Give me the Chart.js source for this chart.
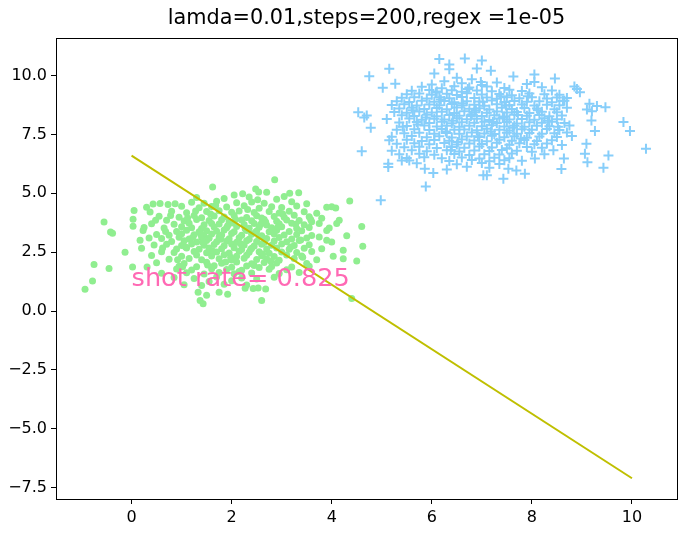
<!DOCTYPE html>
<html>
<head>
<meta charset="utf-8">
<script src="https://cdn.jsdelivr.net/npm/chart.js@4.4.0/dist/chart.umd.min.js"></script>
<style>
  html, body { margin: 0; padding: 0; background: #fff; }
</style>
</head>
<body>
<canvas id="chart" width="699" height="541"></canvas>
<script>
const titleText = 'lamda=0.01,steps=200,regex =1e-05'
const noteText = 'shot rate= 0.825'
const notePos = [0, 1.05]
const xTicks = [0, 2, 4, 6, 8, 10]
const yTicks = [-7.5, -5, -2.5, 0, 2.5, 5, 7.5, 10]
const lineX = [0, 10]
const lineY = [6.6, -7.1]

// class 0 (circles)
const greenPoints = [
  [2.86,5.57],
  [1.62,5.26],[2.48,5.18],
  [2.22,4.98],[2.54,5.05],[2.70,5.04],[3.16,5.0],[3.34,5.02],[2.05,4.93],
  [1.85,4.78],[2.35,4.84],[2.90,4.75],[1.30,4.82],[3.05,4.86],
  [0.43,4.54],[0.57,4.56],[0.73,4.52],[0.87,4.55],[1.20,4.62],[1.45,4.58],[1.70,4.66],[2.10,4.60],[2.40,4.63],[2.65,4.57],[3.20,4.64],[3.50,4.55],[4.36,4.67],
  [0.30,4.40],[1.00,4.45],[1.35,4.38],[1.60,4.44],[1.90,4.42],[2.25,4.47],[2.55,4.36],[2.80,4.43],[3.00,4.39],[3.30,4.46],[3.90,4.40],[4.00,4.43],[4.08,4.37],[0.05,4.27],
  [0.37,4.20],[0.80,4.24],[1.10,4.17],[1.50,4.22],[1.75,4.26],[2.00,4.19],[2.15,4.25],[2.45,4.18],[2.75,4.23],[2.95,4.16],[3.15,4.24],[3.45,4.21],[3.70,4.15],
  [0.55,4.02],[0.95,3.98],[1.25,4.05],[1.40,3.96],[1.65,4.03],[1.85,3.99],[2.05,4.06],[2.30,3.97],[2.50,4.04],[2.60,3.95],[2.85,4.01],[3.05,3.98],[3.25,4.07],[3.55,4.00],[3.80,3.94],[0.03,3.90],
  [0.70,3.85],[1.05,3.82],[1.30,3.88],[1.55,3.84],[1.80,3.87],[1.95,3.80],[2.20,3.86],[2.40,3.83],[2.65,3.89],[2.90,3.81],[3.10,3.86],[3.35,3.84],[3.60,3.79],[4.15,3.85],[4.10,3.72],
  [0.40,3.70],[0.85,3.68],[1.15,3.73],[1.45,3.66],[1.60,3.71],[1.75,3.69],[2.00,3.74],[2.25,3.67],[2.45,3.72],[2.70,3.65],[2.95,3.70],[3.20,3.73],[3.45,3.66],[3.75,3.71],[-0.55,3.78],[0.03,3.60],
  [0.25,3.55],[0.65,3.52],[1.00,3.58],[1.20,3.54],[1.40,3.50],[1.65,3.57],[1.90,3.53],[2.10,3.59],[2.35,3.51],[2.55,3.56],[2.80,3.54],[3.00,3.58],[3.30,3.50],[3.55,3.55],[3.95,3.52],[4.60,3.59],
  [0.23,3.42],[0.90,3.38],[1.10,3.43],[1.35,3.36],[1.50,3.41],[1.70,3.39],[1.85,3.44],[2.05,3.37],[2.30,3.42],[2.50,3.40],[2.75,3.36],[2.90,3.43],[3.15,3.38],[3.40,3.41],[3.90,3.42],[-0.42,3.35],
  [0.50,3.25],[0.75,3.22],[1.00,3.28],[1.25,3.24],[1.45,3.21],[1.60,3.27],[1.80,3.23],[2.00,3.29],[2.20,3.22],[2.40,3.26],[2.60,3.20],[2.85,3.27],[3.05,3.23],[3.30,3.25],[3.60,3.21],[4.30,3.20],[-0.38,3.30],
  [0.35,3.10],[0.60,3.08],[0.95,3.13],[1.15,3.06],[1.40,3.12],[1.55,3.09],[1.75,3.14],[1.95,3.07],[2.15,3.11],[2.35,3.05],[2.55,3.13],[2.70,3.08],[2.95,3.12],[3.20,3.06],[3.50,3.10],[3.75,3.14],
  [0.17,3.00],[0.80,2.95],[1.05,2.98],[1.30,2.93],[1.50,2.99],[1.70,2.94],[1.90,2.97],[2.10,2.92],[2.30,2.98],[2.50,2.95],[2.65,2.91],[2.85,2.97],[3.10,2.94],[3.35,2.99],[3.90,3.00],[4.00,2.93],
  [0.45,2.80],[0.70,2.83],[1.00,2.78],[1.20,2.84],[1.45,2.79],[1.65,2.82],[1.85,2.77],[2.00,2.85],[2.25,2.80],[2.45,2.76],[2.60,2.83],[2.80,2.79],[3.00,2.84],[3.25,2.78],[3.55,2.81],[4.62,2.75],
  [0.20,2.66],[0.90,2.63],[1.10,2.68],[1.35,2.62],[1.55,2.67],[1.80,2.64],[2.05,2.69],[2.20,2.61],[2.40,2.66],[2.70,2.63],[2.90,2.68],[3.15,2.62],[3.45,2.66],[3.80,2.64],
  [-0.13,2.50],[0.60,2.52],[0.85,2.48],[1.25,2.53],[1.50,2.47],[1.70,2.51],[1.95,2.46],[2.15,2.54],[2.35,2.49],[2.55,2.52],[2.75,2.45],[3.00,2.51],[3.30,2.48],[3.60,2.53],[4.23,2.58],
  [0.40,2.36],[1.00,2.33],[1.30,2.38],[1.60,2.34],[1.85,2.39],[2.10,2.32],[2.30,2.37],[2.60,2.35],[2.85,2.31],[3.10,2.38],[3.40,2.34],[4.03,2.32],
  [0.75,2.20],[1.15,2.23],[1.40,2.18],[1.75,2.22],[2.00,2.17],[2.25,2.24],[2.50,2.19],[2.70,2.21],[2.95,2.16],[3.25,2.23],[3.70,2.18],[4.23,2.22],[4.50,2.12],
  [0.50,2.05],[1.05,2.02],[1.50,2.07],[1.80,2.03],[2.10,2.08],[2.40,2.01],[2.65,2.06],[2.90,2.04],[3.50,2.02],[-0.75,1.97],
  [0.02,1.87],[0.31,1.87],[0.95,1.90],[1.30,1.88],[1.65,1.92],[2.00,1.86],[2.30,1.91],[2.55,1.85],[2.80,1.89],[3.20,1.87],[3.55,1.90],[2.45,1.93],
  [-0.45,1.80],[0.90,1.78],[1.20,1.74],[1.60,1.79],[1.90,1.76],[2.20,1.73],[2.75,1.77],[3.10,1.75],
  [0.60,1.60],[1.10,1.62],[1.45,1.57],[1.75,1.63],[2.05,1.58],[2.40,1.61],[2.95,1.59],[3.35,1.64],
  [0.85,1.42],[1.25,1.38],[1.70,1.44],[2.20,1.40],[2.50,1.36],[2.85,1.43],
  [-0.78,1.27],[1.55,1.25],[2.00,1.29],
  [1.05,1.12],[1.40,1.08],[1.85,1.14],[2.30,1.10],
  [-0.93,0.92],[2.43,0.96],[2.53,0.98],[2.68,0.94],[2.27,0.97],
  [1.33,0.80],[1.75,0.80],
  [1.50,0.67],[1.92,0.71],
  [4.40,0.53],
  [1.37,0.45],[2.60,0.45],
  [1.43,0.31],
  // denser core
  [1.12,3.95],[1.58,4.12],[2.32,4.31],[2.68,3.78],[1.38,3.27],[1.92,3.62],[2.47,3.33],[2.18,2.86],
  [1.62,2.55],[2.88,3.45],[3.38,3.02],[0.68,3.38],[1.08,2.72],[2.62,2.42],[1.98,2.28],[1.28,4.25],
  [3.02,4.12],[2.52,4.72],[1.78,3.05],[2.27,3.49],[0.48,3.85],[3.58,3.88],[1.52,1.95],[2.78,2.12],
  [3.18,2.72],[0.92,2.18],[1.68,4.48],[2.08,3.88],[2.93,3.58],[1.22,3.12],[3.42,2.28],[1.88,2.08],
  [0.78,4.05],[2.38,2.62],[2.58,3.68],[1.42,2.92],[3.28,3.68],[0.62,2.68],[2.15,1.68],[1.02,1.88]
]

// class 1 (crosses)
const bluePoints = [
  [6.15,10.70],[6.66,10.72],[7.00,10.64],
  [6.35,10.47],
  [5.15,10.28],[6.35,10.26],[6.90,10.30],
  [7.18,10.20],
  [8.05,10.04],[6.05,10.08],
  [4.75,9.97],[7.63,9.96],
  [8.46,9.87],[6.50,9.90],[6.80,9.84],
  [8.05,9.72],[6.25,9.75],[7.30,9.70],
  [5.27,9.65],[6.00,9.62],[6.60,9.67],[7.00,9.60],[7.90,9.64],
  [5.02,9.48],[5.80,9.52],[6.20,9.46],[6.45,9.54],[6.75,9.49],[7.10,9.53],[7.45,9.47],[8.85,9.53],[8.20,9.50],
  [5.60,9.35],[5.95,9.38],[6.10,9.32],[6.40,9.37],[6.60,9.31],[6.90,9.36],[7.20,9.33],[7.55,9.39],[7.80,9.34],[8.90,9.43],[8.40,9.36],
  [5.50,9.20],[5.75,9.23],[6.00,9.18],[6.30,9.22],[6.50,9.17],[6.70,9.24],[7.00,9.19],[7.35,9.21],[7.60,9.16],[7.95,9.23],[8.25,9.20],[8.96,9.29],[8.55,9.18],
  [5.40,9.05],[5.65,9.08],[5.90,9.02],[6.15,9.07],[6.35,9.03],[6.60,9.09],[6.85,9.04],[7.10,9.06],[7.30,9.01],[7.50,9.08],[7.75,9.03],[8.00,9.07],[8.30,9.02],[8.50,9.06],[8.70,9.04],
  [5.30,8.90],[5.55,8.87],[5.80,8.93],[6.05,8.88],[6.25,8.92],[6.45,8.86],[6.70,8.91],[6.95,8.89],[7.20,8.94],[7.45,8.87],[7.65,8.92],[7.90,8.88],[8.15,8.91],[8.40,8.86],[8.65,8.93],
  [5.20,8.75],[5.45,8.78],[5.70,8.72],[5.95,8.77],[6.15,8.73],[6.40,8.79],[6.60,8.74],[6.85,8.76],[7.05,8.71],[7.30,8.78],[7.55,8.73],[7.80,8.77],[8.05,8.72],[8.30,8.76],[8.55,8.74],[9.15,8.80],[9.30,8.70],
  [5.35,8.60],[5.60,8.63],[5.85,8.58],[6.10,8.62],[6.30,8.57],[6.50,8.64],[6.75,8.59],[6.95,8.61],[7.15,8.56],[7.40,8.63],[7.60,8.58],[7.85,8.62],[8.10,8.60],[8.45,8.57],[8.70,8.63],[9.47,8.65],[9.10,8.55],
  [4.53,8.44],[5.25,8.45],[5.50,8.42],[5.75,8.47],[6.00,8.43],[6.20,8.46],[6.45,8.41],[6.65,8.48],[6.85,8.44],[7.10,8.42],[7.30,8.47],[7.50,8.43],[7.70,8.45],[7.95,8.41],[8.20,8.46],[8.50,8.44],[9.20,8.48],
  [4.70,8.30],[4.65,8.22],[5.40,8.31],[5.65,8.28],[5.90,8.33],[6.10,8.27],[6.35,8.32],[6.55,8.29],[6.80,8.34],[7.00,8.28],[7.25,8.31],[7.45,8.26],[7.65,8.33],[7.90,8.29],[8.15,8.32],[8.35,8.27],[8.60,8.30],
  [5.10,8.15],[5.55,8.17],[5.80,8.12],[6.05,8.16],[6.25,8.13],[6.50,8.18],[6.70,8.14],[6.90,8.16],[7.15,8.11],[7.35,8.17],[7.55,8.13],[7.80,8.15],[8.05,8.12],[8.25,8.18],[8.50,8.14],[9.19,8.09],
  [5.35,8.00],[5.70,8.02],[5.95,7.98],[6.20,8.03],[6.40,7.97],[6.60,8.01],[6.85,7.99],[7.05,8.04],[7.30,7.98],[7.50,8.02],[7.70,7.96],[7.95,8.01],[8.20,7.99],[8.40,8.03],[8.65,7.98],[9.83,8.02],
  [5.50,7.85],[5.85,7.88],[6.10,7.83],[6.30,7.87],[6.55,7.82],[6.75,7.86],[7.00,7.84],[7.20,7.89],[7.45,7.83],[7.65,7.87],[7.85,7.82],[8.10,7.86],[8.35,7.84],[8.75,7.88],
  [4.78,7.78],[5.30,7.70],[5.65,7.72],[5.95,7.68],[6.20,7.73],[6.45,7.69],[6.65,7.71],[6.90,7.67],[7.10,7.74],[7.35,7.70],[7.55,7.66],[7.80,7.72],[8.00,7.69],[8.30,7.73],[8.55,7.68],[9.26,7.64],[9.96,7.64],
  [5.45,7.55],[5.75,7.57],[6.05,7.52],[6.30,7.56],[6.55,7.53],[6.80,7.58],[7.05,7.54],[7.25,7.51],[7.50,7.57],[7.70,7.53],[7.95,7.56],[8.20,7.52],[8.45,7.55],[8.70,7.58],
  [5.20,7.40],[5.60,7.43],[5.90,7.38],[6.15,7.42],[6.40,7.37],[6.70,7.41],[6.95,7.39],[7.20,7.44],[7.45,7.38],[7.65,7.42],[7.90,7.36],[8.15,7.41],[8.50,7.39],[8.80,7.43],
  [5.15,7.25],[5.50,7.27],[5.80,7.22],[6.05,7.26],[6.35,7.23],[6.60,7.28],[6.85,7.24],[7.10,7.21],[7.35,7.27],[7.60,7.23],[7.85,7.26],[8.10,7.22],[8.40,7.25],
  [5.30,7.10],[5.65,7.12],[5.95,7.08],[6.25,7.13],[6.50,7.07],[6.75,7.11],[7.00,7.09],[7.30,7.14],[7.55,7.06],[7.75,7.12],[8.05,7.08],[8.30,7.11],[9.09,7.10],[8.60,7.05],
  [5.45,6.95],[5.75,6.97],[6.10,6.92],[6.40,6.96],[6.65,6.93],[6.95,6.98],[7.20,6.94],[7.50,6.91],[7.90,6.96],[8.20,6.93],
  [4.60,6.78],[5.20,6.80],[5.60,6.83],[5.90,6.78],[6.30,6.82],[6.55,6.77],[6.85,6.81],[7.15,6.79],[7.40,6.84],[7.70,6.80],[8.43,6.82],[8.00,6.76],[10.28,6.89],
  [5.35,6.65],[5.75,6.68],[6.05,6.63],[6.45,6.67],[6.75,6.62],[7.05,6.66],[7.35,6.64],[7.60,6.69],[8.25,6.65],[9.06,6.68],[9.53,6.60],
  [5.50,6.50],[5.85,6.53],[6.20,6.48],[6.60,6.52],[6.95,6.47],[7.25,6.51],[7.55,6.49],[8.06,6.47],[8.64,6.47],
  [5.40,6.39],[5.55,6.39],[6.35,6.37],[6.80,6.41],[7.15,6.36],[7.45,6.40],[7.80,6.38],
  [5.13,6.25],[5.70,6.27],[6.50,6.23],[7.00,6.28],[7.35,6.24],[9.11,6.32],
  [5.13,6.11],[5.86,6.04],[6.70,6.12],[7.15,6.08],[9.43,6.08],
  [7.53,6.04],[8.59,6.03],[6.30,6.01],
  [7.69,5.97],
  [6.03,5.86],[7.86,5.83],
  [7.03,5.76],[7.10,5.76],
  [7.43,5.62],
  [5.88,5.29],
  [4.98,4.70],
  // denser core
  [6.42,8.08],[6.88,8.52],[7.22,8.02],[6.62,8.82],[7.48,8.72],[6.28,7.62],[7.72,8.32],[6.92,7.42],
  [7.38,9.12],[6.18,8.98],[5.88,8.22],[8.12,8.52],[7.62,7.78],[6.72,9.42],[5.62,8.52],[7.92,9.12],
  [6.52,7.18],[7.18,7.62],[8.32,8.08],[5.72,7.92],[6.98,9.72],[7.78,7.32],[6.38,6.82],[8.52,7.82],
  [6.08,9.28],[7.42,8.22],[6.78,8.28],[7.02,8.88],[8.62,8.92],[5.42,7.82]
]

const FONT = 'DejaVu Sans'

const frameAndText = {
  id: 'frameAndText',
  afterDatasetsDraw(chart) {
    const { ctx, scales } = chart
    ctx.save()
    ctx.fillStyle = '#ff69b4'
    ctx.font = `25.6px "${FONT}"`
    ctx.textAlign = 'left'
    ctx.textBaseline = 'alphabetic'
    ctx.fillText(noteText, scales.x.getPixelForValue(notePos[0]), scales.y.getPixelForValue(notePos[1]))
    ctx.restore()
  },
  afterDraw(chart) {
    const { ctx, chartArea: a } = chart
    ctx.save()
    ctx.strokeStyle = '#000'
    ctx.lineWidth = 1
    ctx.strokeRect(Math.round(a.left) + 0.5, Math.round(a.top) + 0.5, Math.round(a.right - a.left), Math.round(a.bottom - a.top))
    ctx.fillStyle = '#000'
    ctx.font = `20.8px "${FONT}"`
    ctx.textAlign = 'center'
    ctx.textBaseline = 'middle'
    ctx.fillText(titleText, (a.left + a.right) / 2, 19)
    ctx.restore()
  }
}

const axisCommon = {
  type: 'linear',
  border: { display: false },
  grid: { drawOnChartArea: false, drawTicks: true, tickLength: 5, tickColor: '#000', tickWidth: 1 },
}

new Chart(document.getElementById('chart'), {
  type: 'scatter',
  data: {
    datasets: [
      {
        type: 'line',
        data: lineX.map((x, i) => ({ x, y: lineY[i] })),
        borderColor: '#bfbf00',
        borderWidth: 2,
        pointRadius: 0,
        fill: false,
        order: 0
      },
      {
        data: bluePoints.map(p => ({ x: p[0], y: p[1] })),
        pointStyle: 'cross',
        pointRadius: 5,
        borderColor: '#87cefa',
        borderWidth: 2,
        order: 1
      },
      {
        data: greenPoints.map(p => ({ x: p[0], y: p[1] })),
        pointStyle: 'circle',
        pointRadius: 3.5,
        backgroundColor: '#90ee90',
        borderWidth: 0,
        order: 2
      }
    ]
  },
  options: {
    responsive: false,
    animation: false,
    devicePixelRatio: 1,
    events: [],
    layout: { padding: { left: 0, right: 22, top: 38, bottom: 0 } },
    plugins: { legend: { display: false }, tooltip: { enabled: false }, title: { display: false } },
    scales: {
      x: {
        ...axisCommon,
        min: -1.51, max: 10.9,
        afterBuildTicks: s => { s.ticks = xTicks.map(v => ({ value: v })) },
        afterFit: s => { s.height = 42 },
        ticks: { autoSkip: false, maxRotation: 0, padding: 4, color: '#000', font: { family: FONT, size: 16 },
          callback: v => String(v) }
      },
      y: {
        ...axisCommon,
        min: -7.98, max: 11.59,
        afterBuildTicks: s => { s.ticks = yTicks.map(v => ({ value: v })) },
        afterFit: s => { s.width = 56 },
        ticks: { autoSkip: false, padding: 4, color: '#000', font: { family: FONT, size: 16 },
          callback: v => v.toFixed(1).replace('-', '\u2212') }
      }
    }
  },
  plugins: [frameAndText]
})
</script>
</body>
</html>
